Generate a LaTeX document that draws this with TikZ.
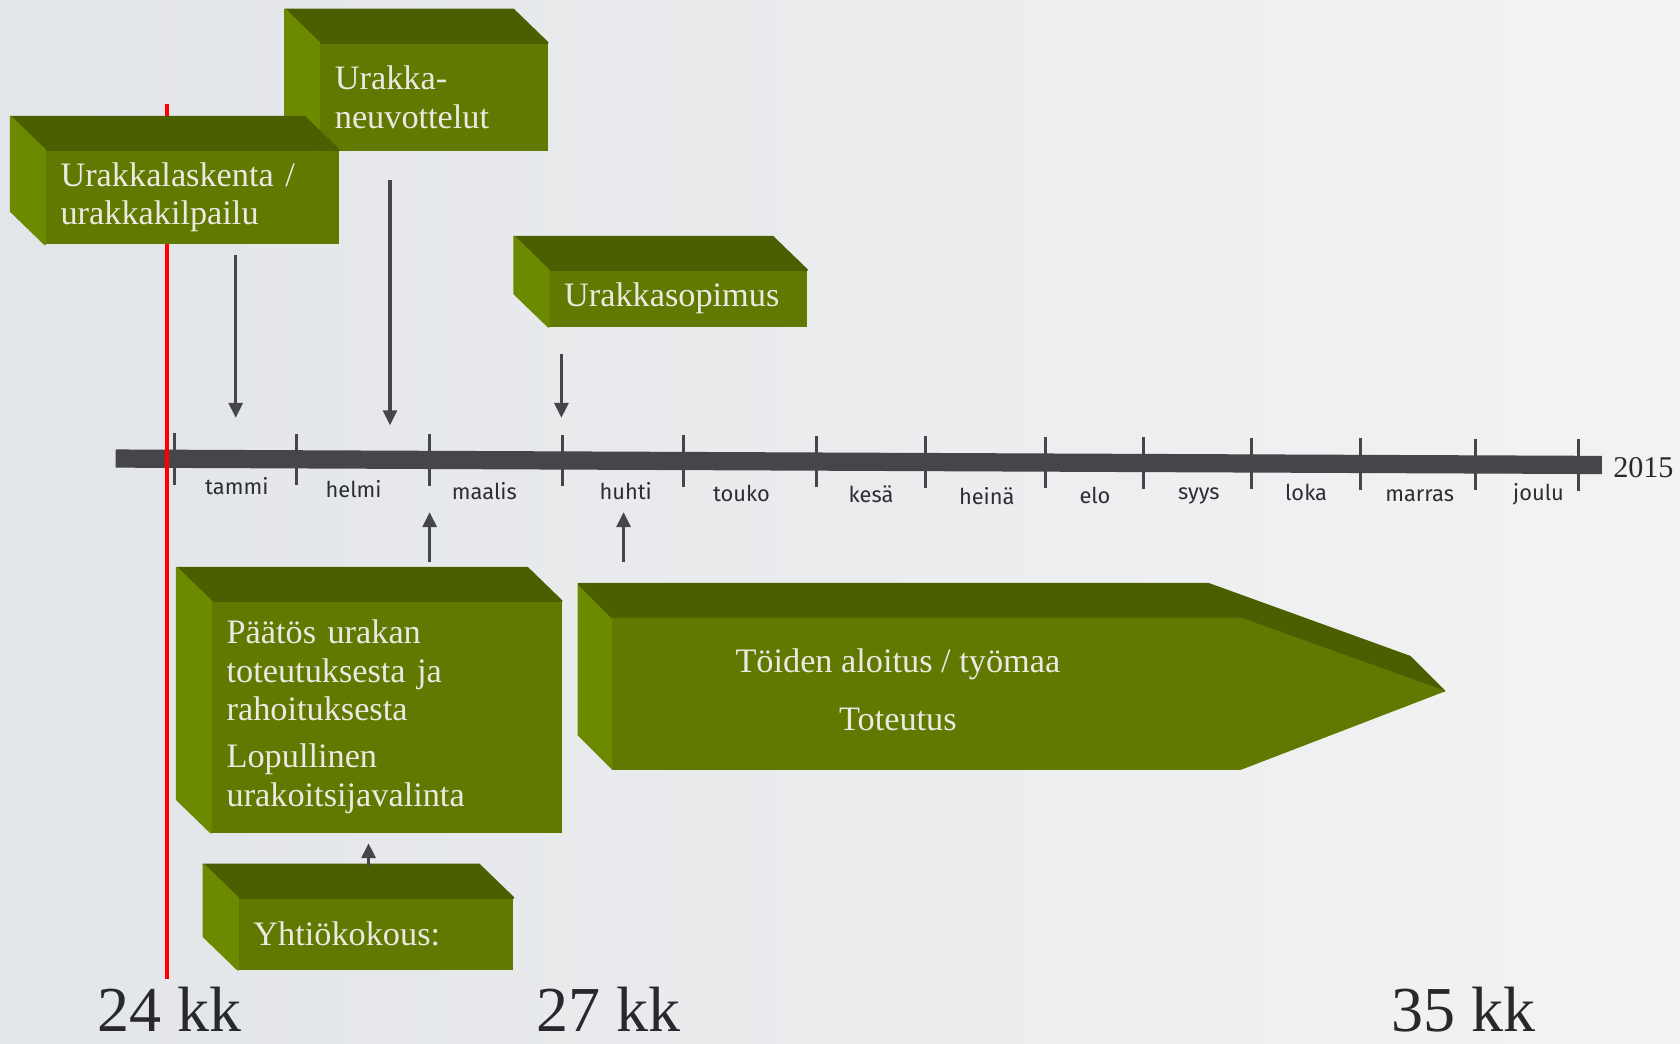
\documentclass[tikz,border=0pt]{standalone}
\usepackage{fontspec}
\setmainfont{Liberation Serif}
\newfontfamily\monthfamily{Fira Sans}
\usetikzlibrary{arrows.meta}
\definecolor{frontgreen}{RGB}{97,121,0}
\definecolor{topgreen}{RGB}{75,94,0}
\definecolor{sidegreen}{RGB}{107,138,0}
\definecolor{lighttext}{RGB}{234,234,226}
\definecolor{bargray}{RGB}{70,69,74}
\definecolor{monthgray}{RGB}{45,45,50}
\definecolor{kkgray}{RGB}{40,40,45}
\definecolor{bgleft}{RGB}{226,229,233}
\definecolor{bgright}{RGB}{243,243,243}

\begin{document}
\begin{tikzpicture}[x=0.01cm,y=-0.01cm,
gbox/.style={fill=frontgreen,draw=frontgreen,line width=0.3pt,text=lighttext,font=\fontsize{9.1pt}{10.24pt}\selectfont,inner sep=0pt,inner xsep=0.14cm,align=left,anchor=north west},
toptext/.style={text=lighttext,font=\fontsize{9.1pt}{10.24pt}\selectfont,align=center,inner sep=0pt},
topface/.style={fill=topgreen,draw=topgreen,line width=0.5pt,line join=round},
sideface/.style={fill=sidegreen,draw=sidegreen,line width=0.5pt,line join=round},
pointer/.style={draw=bargray,line width=0.03cm,-{Triangle[length=0.14cm,width=0.13cm]}},
tick/.style={draw=bargray,line width=0.03cm},
month/.style={font=\monthfamily\fontsize{5.8pt}{6pt}\selectfont,text=monthgray,anchor=base,inner sep=0pt},
kk/.style={font=\fontsize{17pt}{18pt}\selectfont,text=kkgray,anchor=base west,inner sep=0pt}]
\shade[left color=bgleft,right color=bgright] (0,0) rectangle (1568,974);
\useasboundingbox (0,0) rectangle (1568,974);

\coordinate (barW) at (108,428);
\coordinate (barE) at (1495,434);
\draw[bargray,line width=0.17cm] (barW) -- (barE);
\foreach \x in {163,277,401,525,638,762,864,976,1067,1168,1270,1377,1473}{
  \pgfmathsetmacro\yc{428+(\x-108)*0.0045}
  \draw[tick] (\x,{\yc-24}) -- (\x,{\yc+24});
}
\foreach \x/\y/\m [count=\i] in {221/462/tammi,330/464/helmi,452/466/maalis,584/466/huhti,692/468/touko,813/469/kesä,921/471/heinä,1022/470/elo,1119/466/syys,1219/467/loka,1325/468/marras,1436/467/joulu}
  \node[month] (month\i) at (\x,\y) {\m};
\node[anchor=base west,inner sep=0pt,text=kkgray,font=\fontsize{8pt}{9pt}\selectfont] (year) at (1505,446) {2015};

\coordinate (redtop) at (156,97);
\coordinate (redbot) at (156,914);
\draw[red,line width=0.04cm] (redtop) -- (redbot);

\node[gbox,text width=1.84cm,minimum height=1.00cm] (neuvottelu) at (298,40) {Urakka-\\neuvottelut};
\node[gbox,text width=2.45cm,minimum height=0.87cm] (laskenta) at (42,140) {Urakkalaskenta /\\urakkakilpailu};
\node[gbox,text width=2.12cm,minimum height=0.52cm] (sopimus) at (512,252) {Urakkasopimus};
\node[gbox,text width=2.98cm,minimum height=2.15cm] (paatos) at (197,561) {Päätös urakan\\toteutuksesta ja\\rahoituksesta\\[0.08cm]Lopullinen\\urakoitsijavalinta};
\node[gbox,text width=2.28cm,minimum height=0.66cm] (kokous) at (222,838) {Yhtiökokous:};
\foreach \b in {neuvottelu,laskenta,sopimus,paatos,kokous}{
  \filldraw[topface] (\b.north west) -- ++(-32,-31) -- ([shift={(-32,-31)}]\b.north east) -- (\b.north east) -- cycle;
  \filldraw[sideface] (\b.north west) -- ++(-32,-31) -- ([shift={(-32,-31)}]\b.south west) -- (\b.south west) -- cycle;
}

\filldraw[sideface] (540,545) -- (572,577) -- (572,718) -- (540,686) -- cycle;
\filldraw[topface] (540,545) -- (1128,545) -- (1316,613) -- (1348,645) -- (1158,577) -- (572,577) -- cycle;
\filldraw[frontgreen,line width=0.3pt] (572,577) -- (1158,577) -- (1348,645) -- (1158,718) -- (572,718) -- cycle;
\node[toptext] (toteutus) at (838,644) {Töiden aloitus / työmaa\\[0.18cm]Toteutus};

\coordinate (a1s) at (220,238);
\coordinate (a1e) at (220,390);
\coordinate (a2s) at (364,168);
\coordinate (a2e) at (364,397);
\coordinate (a3s) at (524,330);
\coordinate (a3e) at (524,390);
\coordinate (a4s) at (401,525);
\coordinate (a4e) at (401,478);
\coordinate (a5s) at (582,525);
\coordinate (a5e) at (582,478);
\coordinate (a6e) at (344,787);
\draw[pointer] (a1s) -- (a1e);
\draw[pointer] (a2s) -- (a2e);
\draw[pointer] (a3s) -- (a3e);
\draw[pointer] (a4s) -- (a4e);
\draw[pointer] (a5s) -- (a5e);
\draw[pointer] (kokous.north -| a6e) ++(0,-30) -- (a6e);

\node[kk] (kk24) at (90,963) {24 kk};
\node[kk] (kk27) at (500,963) {27 kk};
\node[kk] (kk35) at (1298,963) {35 kk};
\end{tikzpicture}
\end{document}
